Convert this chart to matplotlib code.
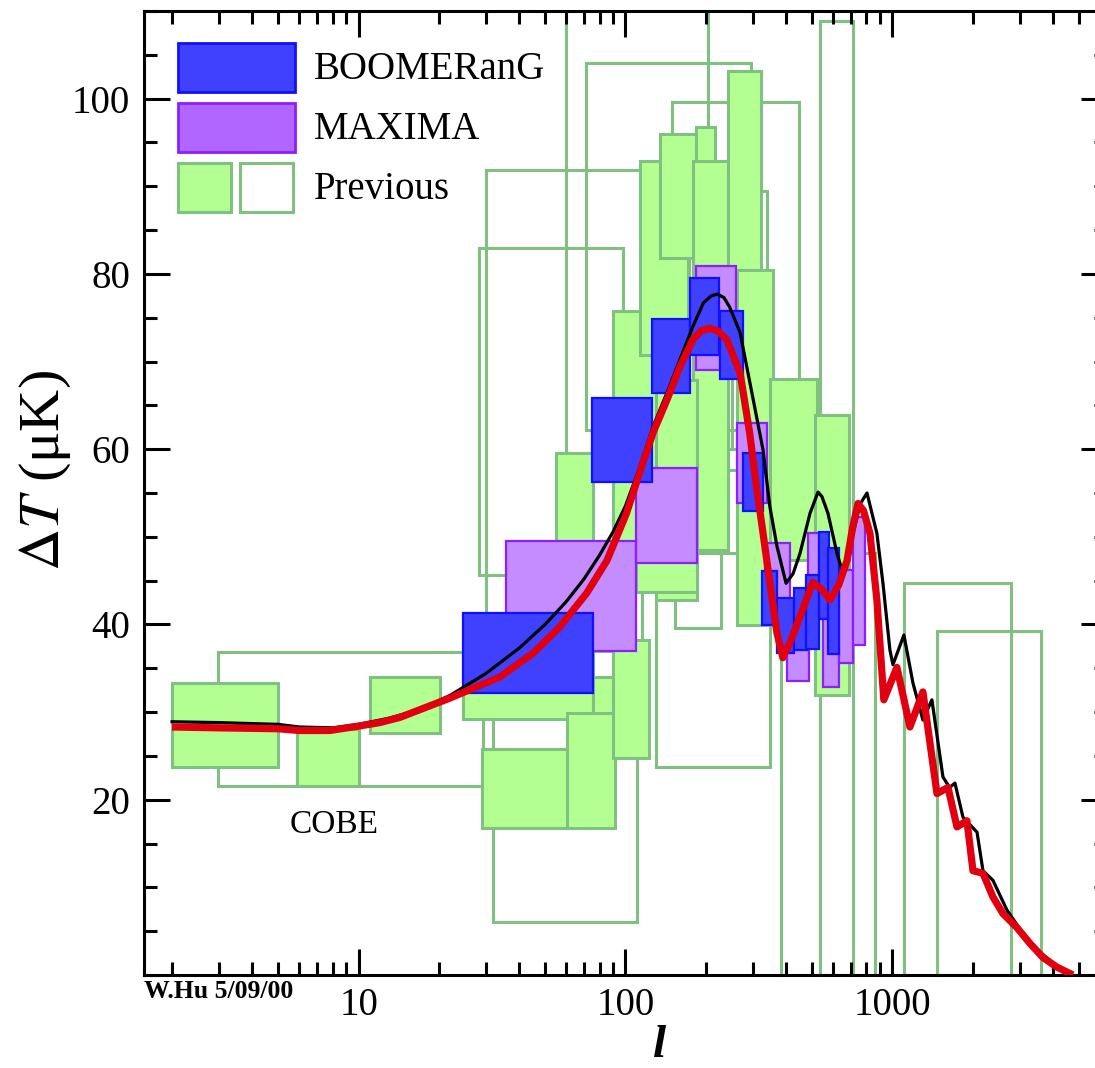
import matplotlib
matplotlib.use("Agg")
import matplotlib.pyplot as plt
from matplotlib.patches import Rectangle
from matplotlib.ticker import LogLocator, MultipleLocator, NullFormatter

plt.rcParams["font.family"] = ["Liberation Serif", "DejaVu Serif"]
plt.rcParams["mathtext.fontset"] = "stix"

# theory curves (multipole l, Delta T in muK)
black_l = [2, 3, 5, 6, 8, 10, 13, 17, 22, 30, 40, 50, 60, 70, 80, 90, 100, 113, 127, 143,
           160, 179, 196, 210, 221, 234, 246, 269, 285, 298, 328, 348, 370, 400, 425, 451,
           492, 527, 545, 574, 621, 654, 713, 760, 804, 876, 923, 980, 1006, 1106, 1196,
           1303, 1408, 1549, 1640, 1718, 1841, 2078, 2188, 2385, 2691, 3282, 4516]
black_T = [28.9, 28.8, 28.6, 28.3, 28.2, 28.6, 29.3, 30.3, 31.9, 34.4, 37.3, 40.0, 42.6,
           45.2, 47.9, 50.6, 53.5, 57.9, 62.6, 66.4, 70.2, 74.0, 76.7, 77.5, 77.7, 77.3,
           76.2, 73.3, 69.4, 66.4, 59.9, 53.4, 48.9, 44.7, 45.8, 48.1, 52.7, 55.1, 54.6,
           52.7, 48.1, 45.8, 50.4, 53.8, 55.0, 50.4, 44.7, 37.1, 35.4, 38.8, 33.3, 29.1,
           31.4, 22.6, 21.4, 21.9, 18.0, 16.3, 11.9, 10.8, 7.4, 3.6, 0.0]

red_l = [2, 3, 5, 6, 7.8, 10, 12, 14.3, 22, 33.8, 45, 56.7, 71.7, 85.3, 101, 113, 127, 143,
         160, 179, 192, 207, 222, 240, 269, 292, 310, 328, 348, 370, 389, 420, 451, 504,
         545, 584, 630, 677, 710, 744, 780, 825, 876, 930, 1041, 1165, 1303, 1471, 1618,
         1748, 1905, 2007, 2188, 2385, 2600, 2934, 3282, 3671, 4142, 4757]
red_T = [28.3, 28.2, 28.1, 27.9, 27.9, 28.4, 28.8, 29.4, 31.6, 34.0, 36.7, 39.7, 43.6,
         47.3, 52.7, 57.3, 61.9, 65.6, 69.4, 72.5, 73.5, 73.8, 73.5, 72.5, 68.7, 61.9,
         55.7, 50.4, 44.7, 39.0, 36.2, 38.4, 40.9, 44.8, 44.0, 42.8, 44.5, 47.3, 51.0,
         53.8, 53.0, 50.4, 42.8, 31.4, 35.1, 28.3, 32.3, 20.7, 21.4, 16.9, 17.6, 11.9,
         11.6, 8.9, 7.0, 5.4, 3.6, 2.0, 0.9, 0.0]

# BOOMERanG band powers: l range and Delta T range
boom_llo = [24.6, 74.9, 125.7, 174.5, 226.7, 275.7, 324.8, 369.7, 428.1, 474.9, 531.3, 574.1]
boom_lhi = [75.5, 125.7, 174.5, 224.1, 276.0, 327.6, 369.7, 428.1, 479.0, 531.3, 579.2, 631.3]
boom_Tlo = [32.2, 56.2, 66.4, 70.8, 68.0, 53.0, 39.9, 36.7, 37.1, 37.2, 40.6, 36.6]
boom_Thi = [41.3, 65.8, 74.9, 79.5, 75.8, 59.6, 46.1, 43.0, 44.2, 45.6, 50.5, 48.7]

# MAXIMA
max_llo = [35.7, 109.5, 183.8, 261.8, 333.3, 403.0, 483.1, 550.0, 631.3, 712.5]
max_lhi = [109.5, 186.0, 259.6, 339.1, 413.6, 487.4, 531.3, 631.3, 712.5, 790.2]
max_Tlo = [37.0, 47.0, 69.0, 53.9, 42.2, 33.6, 40.5, 32.9, 35.6, 37.7]
max_Thi = [49.5, 57.8, 80.9, 63.0, 49.3, 42.8, 50.4, 46.0, 46.2, 52.3]

# previous experiments, filled boxes
prevf_llo = [2.0, 5.9, 11.0, 24.6, 29.0, 75.5, 60.4, 54.9, 89.8, 89.8, 113.3, 134.7, 183.8,
             179.1, 242.2, 261.8, 348.0, 513.3, 130.1, 109.5]
prevf_lhi = [5.0, 10.0, 20.2, 75.5, 69.3, 91.3, 91.3, 75.5, 134.7, 122.5, 171.5, 183.8, 216.5,
             242.2, 322.0, 357.2, 522.2, 688.3, 186.0, 186.0]
prevf_Tlo = [23.7, 21.6, 27.6, 29.2, 16.8, 16.8, 16.8, 36.0, 45.0, 24.8, 70.8, 81.8, 81.9,
             48.5, 70.6, 39.9, 47.4, 32.0, 42.8, 43.7]
prevf_Thi = [33.3, 28.1, 34.0, 38.0, 25.8, 34.0, 29.9, 59.6, 75.8, 38.2, 92.9, 96.0, 96.8,
             92.9, 103.2, 80.4, 68.0, 63.9, 67.9, 50.0]

# previous experiments, open boxes
preve_llo = [2.97, 28.2, 30.0, 59.8, 71.1, 149.4, 173.0, 153.3, 130.1, 31.9, 1106, 1471,
             535.8, 382.8, 250.0]
preve_lhi = [29.3, 97.9, 115.3, 203.8, 295.4, 447.0, 266.3, 228.0, 348.0, 110.4, 2786, 3610,
             712.5, 861.3, 339.1]
preve_Tlo = [21.6, 45.6, 37.0, 48.8, 62.2, 57.6, 60.0, 39.6, 23.7, 6.0, 0, 0, 0, 0, 60.0]
preve_Thi = [36.8, 82.9, 91.8, 112.0, 104.1, 99.6, 90.4, 55.1, 48.1, 31.3, 44.7, 39.2,
             108.9, 48.1, 89.5]

GREEN_FILL = "#b4ff91"
GREEN_EDGE = "#80c080"
BLUE_FILL = "#4040ff"
BLUE_EDGE = "#1010ff"
PURP_FILL = "#c48cff"
PURP_EDGE = "#8c1eff"

fig = plt.figure(figsize=(10.95, 10.68), dpi=100)
ax = fig.add_axes([144 / 1095, 93 / 1068, 963 / 1095, 964 / 1068])
ax.set_xscale("log")


def boxes(llo, lhi, tlo, thi, fc, ec, lw, z):
    for a, b, c, d in zip(llo, lhi, tlo, thi):
        ax.add_patch(Rectangle((a, c), b - a, d - c, facecolor=fc, edgecolor=ec,
                               lw=lw, zorder=z))


boxes(preve_llo, preve_lhi, preve_Tlo, preve_Thi, "none", GREEN_EDGE, 2.2, 1)
boxes(prevf_llo, prevf_lhi, prevf_Tlo, prevf_Thi, GREEN_FILL, GREEN_EDGE, 2.2, 2)
boxes(max_llo, max_lhi, max_Tlo, max_Thi, PURP_FILL, PURP_EDGE, 1.6, 3)
boxes(boom_llo, boom_lhi, boom_Tlo, boom_Thi, BLUE_FILL, BLUE_EDGE, 1.6, 4)

ax.plot(black_l, black_T, color="black", lw=2.3, zorder=5)
ax.plot(red_l, red_T, color="#e00010", lw=5.2, zorder=6, solid_capstyle="butt")

ax.set_xlim(1.57, 6380)
ax.set_ylim(0, 110)

ax.set_xticks([10, 100, 1000])
ax.set_xticklabels(["10", "100", "1000"])
ax.xaxis.set_minor_locator(LogLocator(base=10, subs=range(2, 10)))
ax.xaxis.set_minor_formatter(NullFormatter())
ax.set_yticks([20, 40, 60, 80, 100])
ax.yaxis.set_minor_locator(MultipleLocator(5))

ax.tick_params(which="both", direction="in", top=True, right=True, width=2.2,
               labelsize=28)
ax.tick_params(which="major", length=18.5)
ax.tick_params(which="minor", length=9.5)
ax.tick_params(axis="x", pad=8.5)
ax.tick_params(axis="y", pad=10)
for s in ax.spines.values():
    s.set_linewidth(2.2)

# legend drawn by hand
tr = ax.transAxes
ax.add_patch(Rectangle((0.0353, 0.916), 0.1215, 0.0508, transform=tr, facecolor=BLUE_FILL,
                       edgecolor=BLUE_EDGE, lw=2, zorder=8))
ax.add_patch(Rectangle((0.0353, 0.8537), 0.1215, 0.0508, transform=tr, facecolor="#b066ff",
                       edgecolor=PURP_EDGE, lw=2, zorder=8))
ax.add_patch(Rectangle((0.0353, 0.7915), 0.055, 0.0508, transform=tr, facecolor=GREEN_FILL,
                       edgecolor=GREEN_EDGE, lw=2.2, zorder=8))
ax.add_patch(Rectangle((0.0997, 0.7915), 0.055, 0.0508, transform=tr, facecolor="white",
                       edgecolor=GREEN_EDGE, lw=2.2, zorder=8))
for txt, yy in [("BOOMERanG", 0.9295), ("MAXIMA", 0.8672), ("Previous", 0.805)]:
    ax.text(0.1765, yy, txt, transform=tr, fontsize=28, va="baseline", ha="left", zorder=8)

ax.text(8.08, 16.15, "COBE", fontsize=24, ha="center", va="baseline", zorder=8)

fig.text(144 / 1095, 70 / 1068, "W.Hu 5/09/00", fontsize=18.5, fontweight="bold",
         ha="left", va="baseline")
fig.text(660 / 1095, 11 / 1068, "l", fontsize=34, style="italic", fontweight="bold",
         ha="center", va="baseline")
fig.text(45 / 1095, (1068 - 471) / 1068, r"$\Delta T$ (μK)", fontsize=42, rotation=90,
         ha="center", va="center")

fig.savefig("out.png", dpi=100)
